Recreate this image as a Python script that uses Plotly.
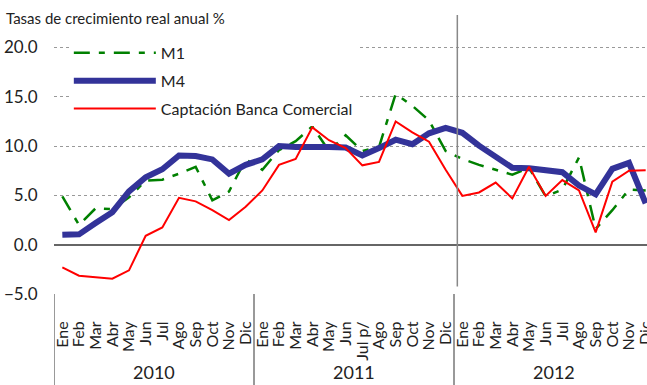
import plotly.graph_objects as go

# Month labels for three years (July 2011 is a preliminary figure)
months = ["Ene", "Feb", "Mar", "Abr", "May", "Jun", "Jul", "Ago", "Sep", "Oct", "Nov", "Dic"]
months_2011 = ["Ene", "Feb", "Mar", "Abr", "May", "Jun", "Jul p/", "Ago", "Sep", "Oct", "Nov", "Dic"]
tick_labels = months + months_2011 + months
years = ["2010", "2011", "2012"]

# Real annual growth rates, %
m1 = [4.9, 2.0, 3.7, 3.6, 4.8, 6.5, 6.6, 7.2, 7.9, 4.5, 5.4, 8.65,
      7.6, 9.6, 10.5, 12.0, 9.5, 11.1, 9.5, 9.9, 15.3, 14.1, 12.6, 9.5,
      8.7, 8.1, 7.6, 7.1, 7.8, 4.9, 5.6, 8.85, 1.6, 3.5, 5.6, 5.5]
m4 = [1.0, 1.05, 2.2, 3.3, 5.4, 6.85, 7.65, 9.05, 9.0, 8.65, 7.2, 8.1,
      8.65, 10.0, 9.9, 9.95, 9.9, 9.85, 9.05, 9.8, 10.65, 10.2, 11.3, 11.85,
      11.35, 10.05, 8.95, 7.8, 7.75, 7.6, 7.35, 6.0, 5.1, 7.7, 8.3, 4.2]
captacion = [-2.3, -3.15, -3.3, -3.45, -2.6, 0.9, 1.75, 4.75, 4.4, 3.5, 2.5, 3.85,
             5.5, 8.1, 8.7, 11.9, 10.6, 9.8, 8.05, 8.4, 12.5, 11.4, 10.45, 7.6,
             4.95, 5.3, 6.3, 4.7, 7.9, 4.95, 6.55, 5.5, 1.25, 6.4, 7.5, 7.55]

x = list(range(len(tick_labels)))
FONT = "Lato, Roboto, sans-serif"
INK = "#222222"

fig = go.Figure()
fig.add_trace(go.Scatter(x=x, y=m1, name="M1", mode="lines", legendgroup="a",
                         line=dict(color="#008000", width=2.5, dash="16px,9px,6px,9px")))
fig.add_trace(go.Scatter(x=x, y=m4, name="M4", mode="lines", legendgroup="b",
                         line=dict(color="#333399", width=6)))
fig.add_trace(go.Scatter(x=x, y=captacion, name="Captación Banca Comercial", mode="lines",
                         legendgroup="c", line=dict(color="#ff0000", width=2)))

shapes = []
# year separators below the axis
for xv in [-0.5, 11.5, 23.5]:
    shapes.append(dict(type="line", xref="x", yref="paper", x0=xv, x1=xv, y0=0, y1=-0.36,
                       line=dict(color="#777777", width=1.5)))
# marker line at the start of 2012
shapes.append(dict(type="line", xref="x", yref="y", x0=23.7, x1=23.7, y0=-4.25, y1=23.3,
                   line=dict(color="#888888", width=1.5)))

annotations = []
for i, yr in enumerate(years):
    annotations.append(dict(x=5.5 + 12 * i, y=-0.28, xref="x", yref="paper", text=yr,
                            showarrow=False, xanchor="center", yanchor="middle",
                            font=dict(family=FONT, size=18, color=INK)))
annotations.append(dict(x=-0.085, y=0.99, xref="paper", yref="paper",
                        text="Tasas de crecimiento real anual %", showarrow=False,
                        xanchor="left", yanchor="middle",
                        font=dict(family=FONT, size=15, color=INK)))

fig.update_layout(
    width=647, height=385,
    margin=dict(l=54, r=0, t=15, b=91, autoexpand=False),
    paper_bgcolor="white", plot_bgcolor="white",
    font=dict(family=FONT, color=INK),
    showlegend=True,
    legend=dict(x=0.025, y=0.925, xanchor="left", yanchor="top",
                bgcolor="white", font=dict(family=FONT, size=16, color=INK),
                itemwidth=82, tracegroupgap=4),
    shapes=shapes,
    annotations=annotations,
)
fig.update_xaxes(range=[-0.5, 35.08], tickmode="array", tickvals=x, ticktext=tick_labels,
                 tickangle=-90, ticks="outside", ticklen=20, tickcolor="rgba(0,0,0,0)",
                 tickfont=dict(family=FONT, size=16, color=INK), ticklabeloverflow="allow",
                 automargin=False,
                 showgrid=False, zeroline=False, showline=False)
fig.update_yaxes(range=[-5, 23.3], tickmode="array", tickvals=[-5, 0, 5, 10, 15, 20],
                 tickformat=".1f", ticks="outside", ticklen=12, tickcolor="rgba(0,0,0,0)",
                 tickfont=dict(family=FONT, size=17, color=INK), automargin=False,
                 showgrid=True, gridcolor="#999999", griddash="dot", gridwidth=1,
                 zeroline=True, zerolinecolor="#666666", zerolinewidth=1.5, showline=False)

fig.write_html("out.html")
